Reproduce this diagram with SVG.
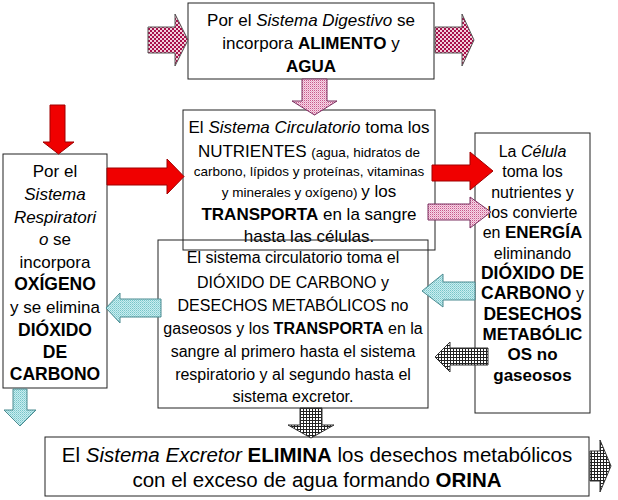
<svg xmlns="http://www.w3.org/2000/svg" width="618" height="500" viewBox="0 0 618 500">
<style>
.box{fill:#fff;stroke:#222;stroke-width:1}
.t{font-family:"Liberation Sans",Arial,sans-serif;fill:#000;text-anchor:middle}
.b{font-weight:bold}
.i{font-style:italic}
.red{fill:#f00000;stroke:#a00000;stroke-width:1}
.pd{fill:url(#pinkDark);stroke:#555;stroke-width:1}
.pl{fill:url(#pinkLight);stroke:#7a3060;stroke-width:1}
.cy{fill:url(#cyan);stroke:#4a8a90;stroke-width:1}
.gr{fill:url(#grid);stroke:#333;stroke-width:1}
</style>
<defs>
<pattern id="pinkDark" width="4" height="4" patternUnits="userSpaceOnUse">
<rect width="4" height="4" fill="#f2d0dc"/>
<rect width="2" height="2" fill="#a8104a"/>
<rect x="2" y="2" width="2" height="2" fill="#a8104a"/>
</pattern>
<pattern id="pinkLight" width="2" height="2" patternUnits="userSpaceOnUse">
<rect width="2" height="2" fill="#f6d8e6"/>
<rect width="1" height="1" fill="#c8588c"/>
<rect x="1" y="1" width="1" height="1" fill="#e8a8c8"/>
</pattern>
<pattern id="cyan" width="2" height="2" patternUnits="userSpaceOnUse">
<rect width="2" height="2" fill="#c8eef0"/>
<rect width="1" height="1" fill="#78c4c8"/>
<rect x="1" y="1" width="1" height="1" fill="#98d4d8"/>
</pattern>
<pattern id="grid" width="3" height="3" patternUnits="userSpaceOnUse">
<rect width="3" height="3" fill="#fff"/>
<rect width="3" height="1" fill="#222"/>
<rect width="1" height="3" fill="#222"/>
</pattern>
</defs>
<rect width="618" height="500" fill="#fff"/>

<g id="digestivo">
<rect class="box" x="188" y="3" width="246" height="76"/>
<text class="t" font-size="17" x="311" y="26">Por el <tspan class="i">Sistema Digestivo</tspan> se</text>
<text class="t" font-size="17" x="311" y="49">incorpora <tspan class="b">ALIMENTO</tspan> y</text>
<text class="t b" font-size="17" x="311" y="72">AGUA</text>
</g>

<g id="circulatorio">
<rect class="box" x="183" y="110" width="252" height="140"/>
<text class="t" font-size="17" x="309" y="133">El <tspan class="i">Sistema Circulatorio</tspan> toma los</text>
<text class="t" font-size="17" x="309" y="157">NUTRIENTES <tspan font-size="13.5">(agua, hidratos de</tspan></text>
<text class="t" font-size="13.5" x="309" y="176">carbono, lípidos y proteínas, vitaminas</text>
<text class="t" font-size="13.5" x="309" y="197">y minerales y oxígeno) <tspan font-size="17">y los</tspan></text>
<text class="t" font-size="17" x="309" y="220"><tspan class="b">TRANSPORTA</tspan> en la sangre</text>
<text class="t" font-size="17" x="309" y="242">hasta las células.</text>
</g>

<g id="circulatorio-retorno">
<rect x="158" y="240" width="270" height="168" fill="none" stroke="#222" stroke-width="1"/>
<text class="t" font-size="16" x="293" y="263">El sistema circulatorio toma el</text>
<text class="t" font-size="16" x="293" y="288">DIÓXIDO DE CARBONO y</text>
<text class="t" font-size="16" x="293" y="311">DESECHOS METABÓLICOS no</text>
<text class="t" font-size="16" x="293" y="334">gaseosos y los <tspan class="b">TRANSPORTA</tspan> en la</text>
<text class="t" font-size="16" x="293" y="357">sangre al primero hasta el sistema</text>
<text class="t" font-size="16" x="293" y="380">respiratorio y al segundo hasta el</text>
<text class="t" font-size="16" x="293" y="402">sistema excretor.</text>
</g>

<g id="respiratorio">
<rect class="box" x="3" y="154" width="104" height="234"/>
<text class="t" font-size="17" x="55" y="177">Por el</text>
<text class="t i" font-size="17" x="55" y="200">Sistema</text>
<text class="t i" font-size="17" x="55" y="223">Respiratori</text>
<text class="t" font-size="17" x="55" y="245"><tspan class="i">o</tspan> se</text>
<text class="t" font-size="17" x="55" y="268">incorpora</text>
<text class="t b" font-size="17.5" x="55" y="290">OXÍGENO</text>
<text class="t" font-size="17" x="55" y="313">y se elimina</text>
<text class="t b" font-size="17.5" x="55" y="336">DIÓXIDO</text>
<text class="t b" font-size="17.5" x="55" y="358">DE</text>
<text class="t b" font-size="17.5" x="55" y="380">CARBONO</text>
</g>

<g id="celula">
<rect class="box" x="475" y="133" width="115" height="280"/>
<text class="t" font-size="16" x="532.5" y="157">La <tspan class="i">Célula</tspan></text>
<text class="t" font-size="16" x="532.5" y="177">toma los</text>
<text class="t" font-size="16" x="532.5" y="198">nutrientes y</text>
<text class="t" font-size="16" x="532.5" y="218">los convierte</text>
<text class="t" font-size="16" x="532.5" y="238">en <tspan class="b" font-size="17">ENERGÍA</tspan></text>
<text class="t" font-size="16" x="532.5" y="259">eliminando</text>
<text class="t b" font-size="17.5" x="532.5" y="279">DIÓXIDO DE</text>
<text class="t" font-size="16" x="532.5" y="299"><tspan class="b" font-size="17.5">CARBONO</tspan> y</text>
<text class="t b" font-size="17.5" x="532.5" y="320">DESECHOS</text>
<text class="t b" font-size="17" x="532.5" y="340">METABÓLIC</text>
<text class="t b" font-size="17" x="532.5" y="360">OS no</text>
<text class="t b" font-size="17" x="532.5" y="381">gaseosos</text>
</g>

<g id="excretor">
<rect class="box" x="45" y="437" width="544" height="59"/>
<text class="t" font-size="20.5" x="317" y="462">El <tspan class="i">Sistema Excretor</tspan> <tspan class="b">ELIMINA</tspan> los desechos metabólicos</text>
<text class="t" font-size="20.5" x="317" y="487">con el exceso de agua formando <tspan class="b">ORINA</tspan></text>
</g>

<g id="connectors">
<polygon class="pd" points="148,27 175,27 175,14 188,40 175,66 175,53 148,53"/>
<polygon class="pd" points="435,27 462,27 462,14 474,40 462,66 462,53 435,53"/>
<polygon class="pl" points="302,79 327,79 327,101 337,101 314.5,115 292,101 302,101"/>
<polygon class="red" points="50,105 65,105 65,142 74,142 58.5,154 43,142 50,142"/>
<polygon class="red" points="107,168 167,168 167,159 184,176.5 167,194 167,185 107,185"/>
<polygon class="red" points="432,165 470,165 470,152 493,171 470,190 470,181 432,181"/>
<polygon class="pl" points="428,204 470,204 470,197 491,212 470,228 470,220 428,220"/>
<polygon class="cy" points="475,282 443,282 443,274 422,291 443,307 443,300 475,300"/>
<polygon class="gr" points="488,348 450,348 450,342 435,357 450,372 450,365 488,365"/>
<polygon class="cy" points="161,299 120,299 120,293 106,308 120,323 120,317 161,317"/>
<polygon class="cy" points="13,389 27,389 27,410 36,410 20,426 4,410 13,410"/>
<polygon class="gr" points="300,408 322,408 322,425 334,425 311,438 288,425 300,425"/>
<polygon class="gr" points="590,451 600,451 600,440 611,466 600,492 600,481 590,481"/>
</g>
</svg>
